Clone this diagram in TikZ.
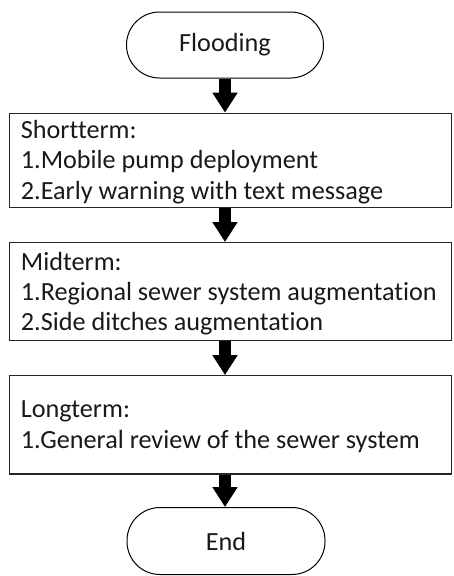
\documentclass[tikz,border=0pt]{standalone}
\usepackage{fontspec}
\setmainfont{Carlito}[Ligatures={NoCommon}]
\usetikzlibrary{arrows.meta}
\tikzset{
  term/.style={draw=black, line width=1pt, rounded corners=33pt, minimum width=197pt, minimum height=66pt, inner sep=0pt, font=\fontsize{26.2}{31}\selectfont, text=black!90},
  stagebox/.style={draw=black!85, line width=1.4pt, inner sep=0pt, minimum width=442.4pt},
  txt/.style={inner sep=0pt, anchor=base west, font=\fontsize{26.2}{31}\selectfont, text=black!90},
  bigarrow/.style={line width=12.5pt, -{Triangle[width=24pt,length=20pt]}}
}
\begin{document}
\begin{tikzpicture}[x=1pt,y=-1pt]
\useasboundingbox (0,0) rectangle (454,576);
\node[term] (flood) at (225,45) {Flooding};
\node[stagebox, minimum height=94.4pt] (short) at (230.5,160.5) {};
\node[stagebox, minimum height=98pt] (mid) at (230.5,291.7) {};
\node[stagebox, minimum height=98.3pt] (long) at (230.5,424.9) {};
\node[term, minimum height=67pt, minimum width=198pt] (endn) at (226,541) {End};
\node[txt] (shorttxt) at (20.7,138.3) {\vtop{\baselineskip=30.5pt \hbox{Shortterm:}\hbox{1.Mobile pump deployment}\hbox{2.Early warning with text message}}};
\node[txt] (midtxt) at (20.7,270.7) {\vtop{\baselineskip=30pt \hbox{Midterm:}\hbox{1.Regional sewer system augmentation}\hbox{2.Side ditches augmentation}}};
\node[txt] (longtxt) at (20.7,417) {\vtop{\baselineskip=31pt \hbox{Longterm:}\hbox{1.General review of the sewer system}}};
\draw[bigarrow] (flood.south) -- (flood.south |- short.north);
\draw[bigarrow] (flood.south |- short.south) -- (flood.south |- mid.north);
\draw[bigarrow] (flood.south |- mid.south) -- (flood.south |- long.north);
\draw[bigarrow] (flood.south |- long.south) -- (endn.north -| flood.south);
\end{tikzpicture}
\end{document}
